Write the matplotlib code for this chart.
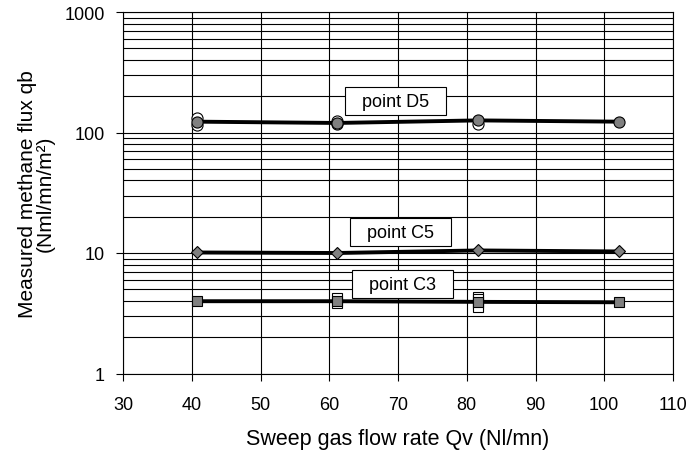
import matplotlib
matplotlib.use("Agg")
import matplotlib.pyplot as plt
from matplotlib.ticker import FixedLocator, LogLocator, NullFormatter
from matplotlib.patches import Rectangle
from matplotlib.transforms import Affine2D, ScaledTranslation

plt.rcParams['font.family'] = ['Liberation Sans', 'DejaVu Sans']

# Data
flow_rate = [40.7, 61.1, 81.6, 102.1]
d5_flux = [123, 120, 126, 123]
c5_flux = [10.1, 10.0, 10.5, 10.3]
c3_flux = [3.98, 3.98, 3.93, 3.9]

# replicate measurements (hollow markers)
d5_rep_x = [40.7, 40.7, 61.1, 61.1, 81.6]
d5_rep_y = [131, 115, 124, 117, 118]
c3_rep_x = [61.1, 61.1, 81.6, 81.6, 81.6, 81.6]
c3_rep_y = [4.2, 3.85, 4.35, 4.15, 3.75, 3.55]

labels = ["point D5", "point C5", "point C3"]
label_x = [69.7, 70.3, 70.6]
label_y = [181, 14.8, 5.53]

x_ticks = [30, 40, 50, 60, 70, 80, 90, 100, 110]
y_ticks = [1, 10, 100, 1000]
y_ticklabels = ["1", "10", "100", "1000"]

fig = plt.figure(figsize=(6.91, 4.52), dpi=100)
ax = fig.add_axes([123/691, 1 - 374.5/452, (673-123)/691, (374.5-13)/452])

ax.set_yscale('log')
ax.set_xlim(30, 110)
ax.set_ylim(1, 1000)

ax.xaxis.set_major_locator(FixedLocator(x_ticks))
ax.yaxis.set_major_locator(FixedLocator(y_ticks))
ax.set_yticklabels(y_ticklabels)
ax.yaxis.set_minor_locator(LogLocator(base=10, subs=range(2, 10)))
ax.yaxis.set_minor_formatter(NullFormatter())

ax.grid(True, which='major', axis='both', color='black', linewidth=0.8)
ax.grid(True, which='minor', axis='y', color='black', linewidth=0.8)
ax.set_axisbelow(True)

ax.tick_params(axis='both', which='major', direction='out', length=5, width=0.8,
               labelsize=13, color='black')
ax.tick_params(axis='x', which='major', pad=11)
ax.tick_params(axis='y', which='major', pad=8)
ax.tick_params(axis='y', which='minor', length=0)
for s in ax.spines.values():
    s.set_linewidth(0.8)
    s.set_color('black')

# replicates
ax.plot(d5_rep_x, d5_rep_y, linestyle='none', marker='o', markersize=8,
        markerfacecolor='white', markeredgecolor='black', markeredgewidth=0.8, zorder=3)
ax.plot(c3_rep_x, c3_rep_y, linestyle='none', marker='s', markersize=7,
        markerfacecolor='white', markeredgecolor='black', markeredgewidth=0.8, zorder=3)

# series
lw = 2.8
ax.plot(flow_rate, d5_flux, color='black', linewidth=lw, marker='o', markersize=8,
        markerfacecolor='#808080', markeredgecolor='black', markeredgewidth=0.8, zorder=4)
ax.plot(flow_rate, c5_flux, color='black', linewidth=lw, marker='D', markersize=6.5,
        markerfacecolor='#808080', markeredgecolor='black', markeredgewidth=0.8, zorder=4)
ax.plot(flow_rate, c3_flux, color='black', linewidth=lw, marker='s', markersize=7.5,
        markerfacecolor='#808080', markeredgecolor='black', markeredgewidth=0.8, zorder=4)

# label boxes (fixed size in points, centred on the label anchor)
box_w, box_h = 101 * 0.72, 28 * 0.72  # points
for t, x, y in zip(labels, label_x, label_y):
    box_trans = Affine2D().scale(fig.dpi / 72) + ScaledTranslation(x, y, ax.transData)
    ax.add_patch(Rectangle((-box_w / 2, -box_h / 2), box_w, box_h, transform=box_trans,
                           facecolor='white', edgecolor='black', linewidth=0.8, zorder=5))
    ax.text(x, y, t, ha='center', va='center', fontsize=13, zorder=6)

ax.set_xlabel("Sweep gas flow rate Qv (Nl/mn)", fontsize=15.5, labelpad=11)
ax.set_ylabel("Measured methane flux qb\n(Nml/mn/m²)", fontsize=15, labelpad=7,
              linespacing=0.9)

fig.savefig("out.png", dpi=100)
